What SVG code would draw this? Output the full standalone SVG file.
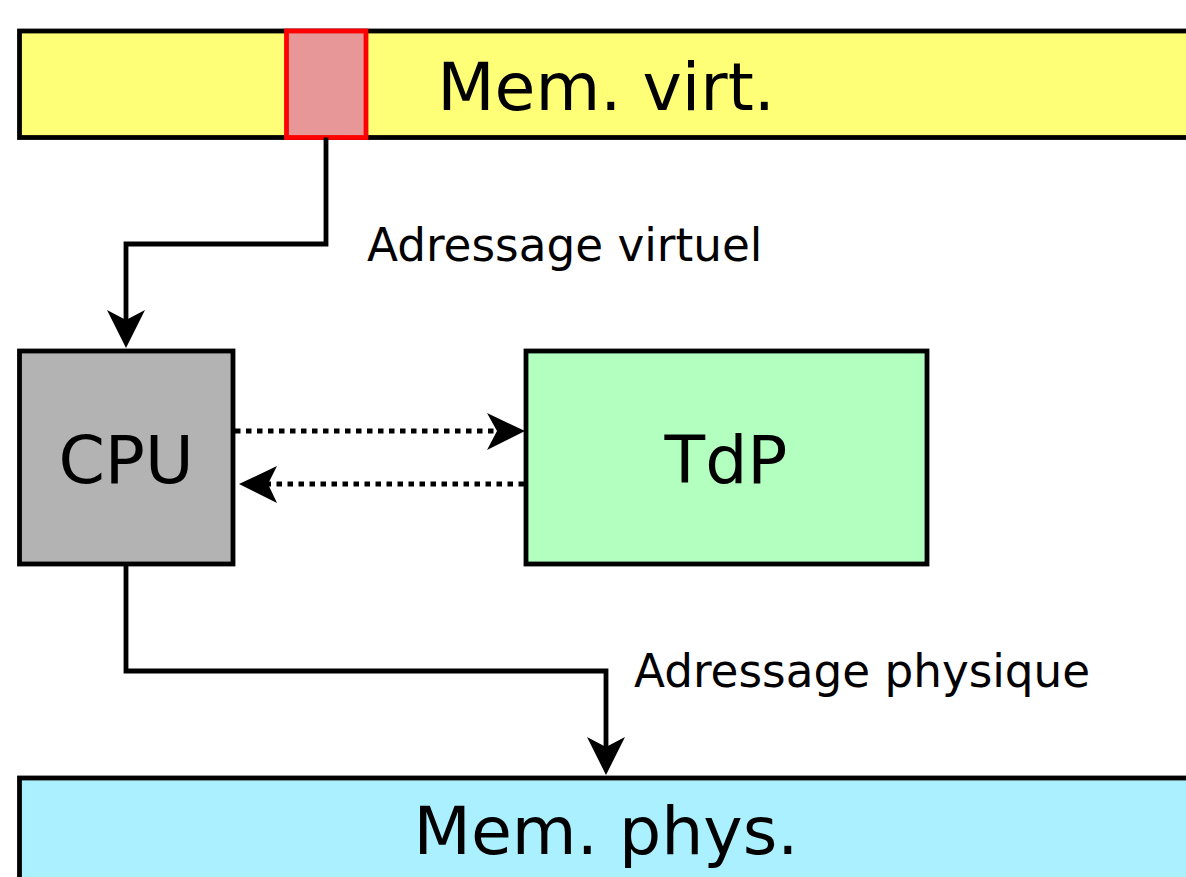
<svg xmlns="http://www.w3.org/2000/svg" width="1186" height="877" viewBox="0 0 1186 877">
<style>
.box{stroke:#000;stroke-width:4.8}
.t{font-family:"DejaVu Sans",sans-serif;fill:#000}
.big{font-size:66.5px;text-anchor:middle}
.lbl{font-size:45.3px}
.con{fill:none;stroke:#000;stroke-width:4.8}
.dot{fill:none;stroke:#000;stroke-width:4.8;stroke-dasharray:5.5,5.5}
.head{fill:#000;stroke:none}
</style>
<rect width="1186" height="877" fill="#fff"/>
<g id="memvirt">
<rect class="box" x="19.5" y="31" width="1200" height="106.5" fill="#ffff77"/>
<text class="t big" x="606" y="110">Mem. virt.</text>
</g>
<g id="page">
<rect x="286.5" y="31" width="79.5" height="106.5" fill="#e79797" stroke="#ff0000" stroke-width="4.8"/>
</g>
<g id="cpu">
<rect class="box" x="19.5" y="351" width="213.5" height="213" fill="#b3b3b3"/>
<text class="t big" x="126" y="483">CPU</text>
</g>
<g id="tdp">
<rect class="box" x="526" y="351" width="401" height="213" fill="#b3ffc0"/>
<text class="t big" x="726" y="483">TdP</text>
</g>
<g id="memphys">
<rect class="box" x="19.5" y="778" width="1200" height="120" fill="#aaf0fe"/>
<text class="t big" x="606" y="854">Mem. phys.</text>
</g>
<g id="connectors">
<path class="con" d="M326,137.5 V244 H126 V322"/>
<path class="head" d="M126,348 L107,310 L126,320 L145,310 Z"/>
<path class="dot" d="M235,431 H500"/>
<path class="head" d="M525,431 L487,413 L497,431 L487,450 Z"/>
<path class="dot" d="M524,484 H266"/>
<path class="head" d="M239,484 L277,466 L268,484 L277,503 Z"/>
<path class="con" d="M126,564 V671 H606 V748"/>
<path class="head" d="M606,775 L587,737 L606,747 L625,737 Z"/>
<text class="t lbl" x="367" y="261">Adressage virtuel</text>
<text class="t lbl" x="634" y="687">Adressage physique</text>
</g>
</svg>
